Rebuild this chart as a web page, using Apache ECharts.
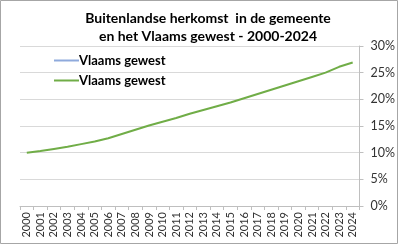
<!DOCTYPE html>
<html><head><meta charset="utf-8">
<script src="https://cdn.jsdelivr.net/npm/echarts@6/dist/echarts.min.js"></script>
<style>html,body{margin:0;padding:0;background:#fff}#c{width:398px;height:244px}</style>
</head><body><div id="c"></div>
<script>
const years = ['2000','2001','2002','2003','2004','2005','2006','2007','2008','2009','2010','2011','2012','2013','2014','2015','2016','2017','2018','2019','2020','2021','2022','2023','2024'];
const vlaamsGewest = [10.0,10.3,10.7,11.1,11.6,12.1,12.7,13.5,14.3,15.1,15.8,16.5,17.3,18.0,18.7,19.4,20.2,21.0,21.8,22.6,23.4,24.2,25.0,26.1,26.9];
const gemeente = [];
const yTicks = [0,5,10,15,20,25,30];
const F = 'Lato';
const chart = echarts.init(document.getElementById('c'), null, {renderer:'canvas'});
chart.setOption({
  animation:false,
  backgroundColor:'#fff',
  textStyle:{fontFamily:F},
  title:{text:'Buitenlandse herkomst  in de gemeente\nen het Vlaams gewest - 2000-2024',left:203,textAlign:'center',top:4,
    textStyle:{fontSize:14,fontWeight:'bold',color:'#000',lineHeight:18,fontFamily:F}},
  graphic:[{type:'rect',shape:{x:0.5,y:0.5,width:397,height:243},style:{fill:null,stroke:'#a6a6a6',lineWidth:1},silent:true}],
  legend:{orient:'vertical',left:48,top:49,itemWidth:25,itemHeight:10,itemGap:7,
    textStyle:{fontSize:13,fontWeight:'bold',color:'#000',padding:[0,0,0,-5],fontFamily:F},
    data:[{name:'Vlaams gewest',itemStyle:{opacity:0}},{name:'Vlaams gewest ',itemStyle:{opacity:0}}],
    formatter:n=>n.trim()},
  grid:{left:20,right:37,top:46,bottom:38},
  xAxis:{type:'category',data:years,boundaryGap:true,
    axisLine:{lineStyle:{color:'#bfbfbf'}},
    axisTick:{show:true,length:4,interval:0,lineStyle:{color:'#bfbfbf'}},
    axisLabel:{rotate:90,interval:0,fontSize:11,color:'#333',margin:6,fontFamily:F}},
  yAxis:{type:'value',position:'right',min:0,max:30,interval:5,
    axisLine:{show:true,lineStyle:{color:'#bfbfbf'}},
    axisTick:{show:true,length:4,lineStyle:{color:'#bfbfbf'}},
    splitLine:{lineStyle:{color:'#d9d9d9'}},
    axisLabel:{formatter:v=>yTicks.includes(v)?v+'%':'',fontSize:12.5,color:'#333',margin:11,fontFamily:F}},
  series:[
    {name:'Vlaams gewest',type:'line',data:gemeente,symbol:'none',lineStyle:{color:'#8faadc',width:2},itemStyle:{color:'#8faadc'}},
    {name:'Vlaams gewest ',type:'line',data:vlaamsGewest,symbol:'none',lineStyle:{color:'#70ad47',width:2},itemStyle:{color:'#70ad47'}}
  ]
});
</script></body></html>
